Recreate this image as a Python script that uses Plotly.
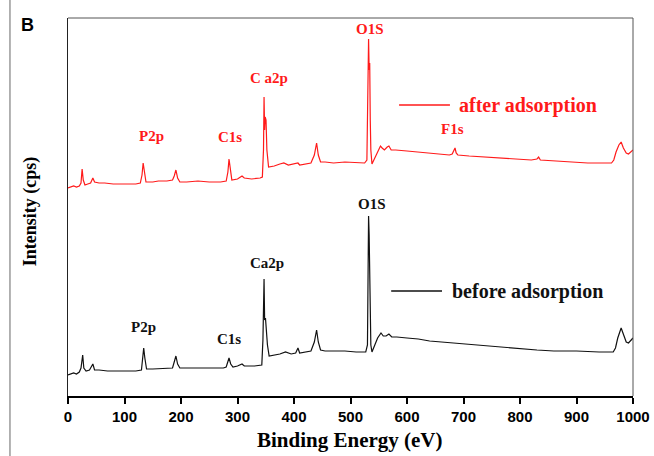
import plotly.graph_objects as go

# Binding energy (eV) and intensity (arbitrary units)
after_ev = [0, 5, 10, 15, 20, 23, 25, 27, 30, 35, 40, 44, 47, 55, 65, 80, 100, 120, 128, 131, 133, 135, 138,
            150, 160, 175, 185, 188, 191, 194, 198, 210, 230, 250, 270, 280, 283, 285, 287, 290, 300, 305,
            308, 312, 325, 340, 344, 346, 347, 348, 349, 350.5, 352, 355, 365, 375, 382, 390, 400, 407, 410,
            420, 430, 436, 440, 443, 447, 455, 470, 490, 510, 525, 529, 531, 532, 533, 534, 535, 536, 538,
            543, 548, 553, 556, 560, 565, 568, 572, 580, 600, 620, 640, 660, 675, 680, 683, 685, 687, 690,
            710, 740, 770, 800, 820, 830, 833, 836, 860, 890, 920, 950, 962, 966, 970, 975, 979, 983, 988,
            992, 996, 1000]
after_int = [208, 209, 210, 209, 210, 213, 227, 216, 211, 212, 213, 218, 214, 213, 213, 212, 212, 212, 213,
             221, 233, 224, 214, 214, 215, 215, 216, 220, 226, 218, 214, 214, 215, 214, 214, 215, 224, 237,
             228, 216, 217, 219, 220, 218, 217, 218, 219, 246, 299, 266, 279, 276, 246, 229, 230, 232, 233,
             231, 232, 233, 231, 232, 233, 241, 253, 241, 234, 234, 233, 234, 233, 233, 236, 296, 357, 326,
             333, 276, 246, 232, 238, 244, 250, 248, 246, 249, 250, 246, 246, 245, 244, 243, 242, 241, 242,
             246, 248, 243, 241, 240, 239, 238, 237, 236, 237, 239, 236, 235, 234, 233, 233, 233, 236, 244,
             251, 254, 248, 243, 242, 244, 246]

before_ev = [0, 5, 10, 15, 20, 23, 26, 28, 32, 38, 44, 47, 55, 70, 100, 120, 130, 132, 134, 136, 139, 150,
             170, 185, 188, 191, 194, 198, 220, 250, 275, 280, 283, 285, 288, 292, 300, 308, 312, 330, 343,
             345, 347, 348, 349.5, 351, 353, 356, 365, 375, 385, 395, 403, 407, 410, 420, 430, 436, 440, 443,
             447, 455, 470, 490, 510, 527, 530, 531, 532, 533, 534, 535, 536, 538, 543, 548, 554, 558, 563,
             568, 573, 582, 600, 620, 640, 660, 680, 700, 720, 740, 760, 780, 800, 830, 860, 900, 940, 965,
             969, 973, 979, 983, 988, 992, 996, 1000]
before_int = [21, 22, 23, 22, 24, 28, 41, 28, 25, 26, 32, 26, 26, 25, 25, 25, 26, 36, 48, 38, 27, 27, 28,
              28, 34, 40, 32, 28, 28, 28, 28, 29, 34, 38, 32, 29, 30, 32, 30, 30, 31, 56, 117, 76, 78, 66,
              51, 40, 41, 42, 44, 42, 43, 48, 43, 44, 45, 54, 66, 54, 46, 45, 45, 45, 44, 44, 51, 96, 180,
              161, 126, 76, 51, 44, 51, 58, 63, 60, 60, 62, 59, 59, 58, 57, 55, 54, 53, 52, 51, 50, 49, 48,
              47, 46, 45, 45, 44, 44, 48, 58, 68, 62, 54, 53, 56, 58]

x_ticks = [0, 100, 200, 300, 400, 500, 600, 700, 800, 900, 1000]

serif = "Liberation Serif"
sans = "Liberation Sans"
RED = "#ff1a1a"
BLACK = "#111111"

fig = go.Figure()
fig.add_trace(go.Scatter(x=after_ev, y=after_int, mode="lines",
                         line=dict(color=RED, width=1.2), showlegend=False))
fig.add_trace(go.Scatter(x=before_ev, y=before_int, mode="lines",
                         line=dict(color=BLACK, width=1.2), showlegend=False))

def lab(text, x, y, color, size=15, xanchor="center"):
    fig.add_annotation(x=x, y=y, text=text, showarrow=False, xanchor=xanchor, yanchor="middle",
                       font=dict(family=serif, size=size, color=color, weight="bold"))

# peak labels (after adsorption, red)
lab("O1S", 534, 367, RED)
lab("C a2p", 356, 318, RED)
lab("P2p", 147, 260, RED)
lab("C1s", 287, 259, RED)
lab("F1s", 681, 267, RED)
# peak labels (before adsorption, black)
lab("O1S", 538, 192, BLACK)
lab("Ca2p", 352, 133, BLACK)
lab("P2p", 133, 69, BLACK)
lab("C1s", 285, 57, BLACK)

# legend-like samples
fig.add_shape(type="line", x0=586, x1=676, y0=291, y1=291, line=dict(color=RED, width=1.3))
lab("after adsorption", 688, 291, RED, size=20, xanchor="left")
fig.add_shape(type="line", x0=572, x1=662, y0=105, y1=105, line=dict(color=BLACK, width=1.3))
lab("before adsorption", 676, 105, BLACK, size=20, xanchor="left")

# frame top & right (thin gray)
fig.add_shape(type="line", xref="paper", yref="paper", x0=0, x1=1, y0=1, y1=1,
              line=dict(color="#555555", width=1))
fig.add_shape(type="line", xref="paper", yref="paper", x0=1, x1=1, y0=0, y1=1,
              line=dict(color="#555555", width=1))
# panel border at left
fig.add_shape(type="line", xref="paper", yref="paper", x0=-0.1027, x1=-0.1027, y0=-0.16, y1=1.05,
              line=dict(color="#666666", width=1))

# axis titles & panel letter
fig.add_annotation(xref="paper", yref="paper", x=0.499, y=-0.116, text="Binding Energy (eV)",
                   showarrow=False, xanchor="center", yanchor="middle",
                   font=dict(family=serif, size=21, color="#000000", weight="bold"))
fig.add_annotation(xref="paper", yref="paper", x=-0.067, y=0.489, text="Intensity (cps)",
                   showarrow=False, textangle=-90, xanchor="center", yanchor="middle",
                   font=dict(family=serif, size=18, color="#000000", weight="bold"))
fig.add_annotation(xref="paper", yref="paper", x=-0.071, y=0.981, text="B",
                   showarrow=False, xanchor="center", yanchor="middle",
                   font=dict(family=sans, size=18, color="#000000", weight="bold"))

fig.update_xaxes(range=[0, 1000], tickvals=x_ticks, ticktext=[str(v) for v in x_ticks],
                 showline=True, linecolor="#000000", linewidth=2, ticks="outside", ticklen=6,
                 tickwidth=1.5, tickcolor="#000000", showgrid=False, zeroline=False, automargin=False,
                 tickfont=dict(family=sans, size=15, color="#000000", weight="bold"))
fig.update_yaxes(range=[0, 378], showline=True, linecolor="#222222", linewidth=1.2, automargin=False,
                 showticklabels=False, ticks="", showgrid=False, zeroline=False)

fig.update_layout(width=654, height=456, margin=dict(l=68, r=21, t=18, b=60),
                  plot_bgcolor="white", paper_bgcolor="white")

fig.write_html("out.html", config={"displayModeBar": False},
               post_script="document.body.style.margin='0';document.body.style.overflow='hidden';")
